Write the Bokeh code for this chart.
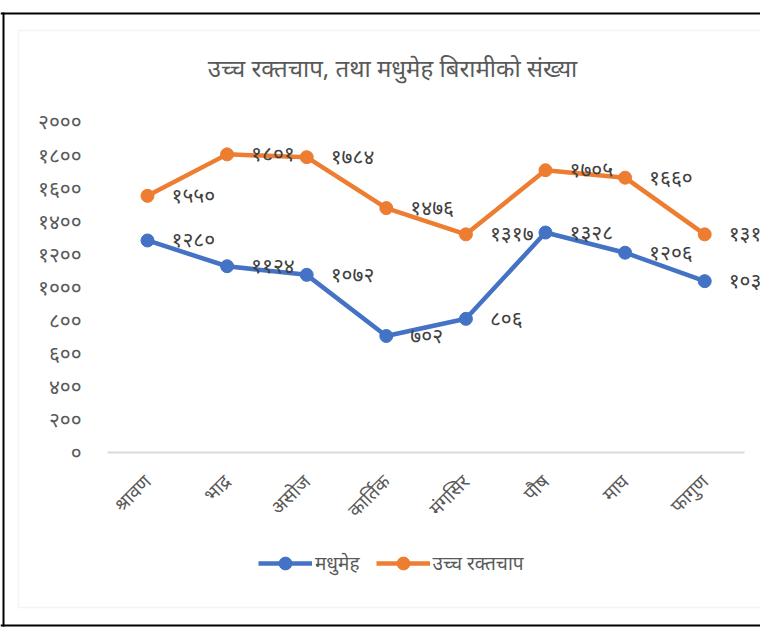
import math
from bokeh.plotting import figure
from bokeh.models import (ColumnDataSource, Range1d, FixedTicker,
                          Legend, LegendItem, BoxAnnotation, Label)
from bokeh.embed import file_html
from bokeh.resources import INLINE

# ---------------- data ----------------
months = ["श्रावण", "भाद्र", "असोज", "कार्तिक", "मंगसिर", "पौष", "माघ", "फागुण"]
diabetes = [1280, 1124, 1072, 702, 806, 1328, 1206, 1034]
hypertension = [1550, 1801, 1784, 1476, 1317, 1705, 1660, 1317]
series_names = ["मधुमेह", "उच्च रक्तचाप"]
y_ticks = [0, 200, 400, 600, 800, 1000, 1200, 1400, 1600, 1800, 2000]
y_tick_labels = ["०", "२००", "४००", "६००", "८००", "१०००", "१२००", "१४००", "१६००", "१८००", "२०००"]
title_text = "उच्च रक्तचाप, तथा मधुमेह बिरामीको संख्या"

DEV = "०१२३४५६७८९"
def dev(n):
    return "".join(DEV[int(c)] for c in str(n))

BLUE = "#4472C4"
ORANGE = "#ED7D31"
FONT = "Noto Sans"
W, H = 760, 634

idx = list(range(len(months)))
src_d = ColumnDataSource(dict(x=idx, y=diabetes, t=[dev(v) for v in diabetes]))
src_h = ColumnDataSource(dict(x=idx, y=hypertension, t=[dev(v) for v in hypertension]))

# ranges chosen so the plotting area sits where the original chart's does
p = figure(width=W, height=H, title=None,
           x_range=Range1d(-1.8467, 7.7010), y_range=Range1d(-1104, 2732),
           output_backend="svg", toolbar_location=None,
           min_border_left=0, min_border_right=0, min_border_top=0, min_border_bottom=0,
           background_fill_color="white", border_fill_color="white")
p.outline_line_color = None
p.grid.visible = False

# frame decorations (screen units, origin bottom-left)
p.add_layout(BoxAnnotation(left=18, right=820, top=604, bottom=27,
                           left_units="screen", right_units="screen",
                           top_units="screen", bottom_units="screen",
                           fill_alpha=0, line_color="#d9d9d9", line_width=1.5))
for (l, r, b, t) in [(0, 820, 620, 622), (2, 4, 8, 622), (0, 820, 8, 10)]:
    p.add_layout(BoxAnnotation(left=l, right=r, bottom=b, top=t,
                               left_units="screen", right_units="screen",
                               top_units="screen", bottom_units="screen",
                               fill_color="black", fill_alpha=1, line_alpha=0))

# title
p.add_layout(Label(x=392, y=H - 67, x_units="screen", y_units="screen", text=title_text,
                   text_align="center", text_baseline="middle", text_font=FONT,
                   text_font_size="24px", text_color="#595959"))

# y axis
p.yaxis.fixed_location = -0.5
p.yaxis.bounds = (0, 2000)
p.yaxis.ticker = FixedTicker(ticks=y_ticks)
p.yaxis.major_label_overrides = {t: l for t, l in zip(y_ticks, y_tick_labels)}
p.yaxis.axis_line_color = None
p.yaxis.major_tick_line_color = None
p.yaxis.minor_tick_line_color = None
p.yaxis.major_label_standoff = 20
p.yaxis.major_label_text_font = FONT
p.yaxis.major_label_text_font_size = "21px"
p.yaxis.major_label_text_color = "#595959"

# x axis
p.xaxis.fixed_location = 0
p.xaxis.bounds = (-0.5, len(months) - 0.5)
p.xaxis.ticker = FixedTicker(ticks=idx)
p.xaxis.major_label_overrides = {i: m for i, m in zip(idx, months)}
p.xaxis.axis_line_color = "#d9d9d9"
p.xaxis.axis_line_width = 2
p.xaxis.major_tick_line_color = None
p.xaxis.minor_tick_line_color = None
p.xaxis.major_label_orientation = math.pi / 4
p.xaxis.major_label_standoff = 20
p.xaxis.major_label_text_font = FONT
p.xaxis.major_label_text_font_size = "19px"
p.xaxis.major_label_text_color = "#595959"

# series
ld = p.line("x", "y", source=src_d, line_color=BLUE, line_width=4.5)
sd = p.scatter("x", "y", source=src_d, size=13, fill_color=BLUE, line_color=BLUE)
lh = p.line("x", "y", source=src_h, line_color=ORANGE, line_width=4.5)
sh = p.scatter("x", "y", source=src_h, size=13, fill_color=ORANGE, line_color=ORANGE)

for s in (src_d, src_h):
    p.text("x", "y", text="t", source=s, x_offset=24, y_offset=-1,
           text_baseline="middle", text_align="left", text_font_size="21px",
           text_color="#404040", text_font={"value": FONT})

legend = Legend(items=[LegendItem(label=series_names[0], renderers=[ld, sd]),
                       LegendItem(label=series_names[1], renderers=[lh, sh])],
                orientation="horizontal", location=(258, 55),
                glyph_width=54, glyph_height=32, label_standoff=3, spacing=16,
                label_text_font=FONT, label_text_font_size="19px",
                label_text_color="#595959", border_line_color=None,
                background_fill_alpha=0, margin=0, padding=0)
p.add_layout(legend, "center")

open("out.html", "w").write(file_html(p, INLINE))
